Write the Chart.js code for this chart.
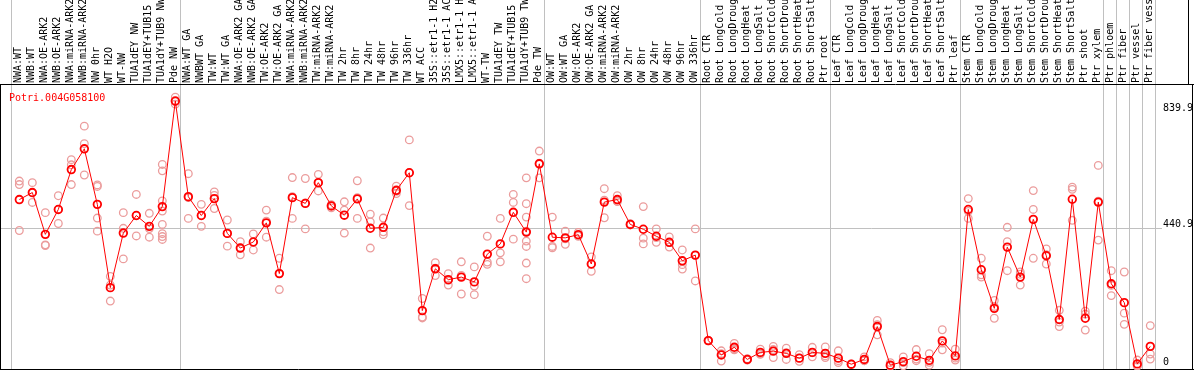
<!DOCTYPE html>
<html>
<head>
<meta charset="utf-8">
<script src="https://cdn.jsdelivr.net/npm/chart.js@4"></script>
<style>
  html, body { margin: 0; padding: 0; background: #fff; }
  #wrap { width: 1194px; height: 370px; }
</style>
</head>
<body>
<div id="wrap"><canvas id="exprChart" width="1194" height="370"></canvas></div>
<script>
const geneName = 'Potri.004G058100';

const samples = [
    'NWA:WT', 'NWB:WT', 'NWA:OE-ARK2', 'NWB:OE-ARK2', 'NWA:miRNA-ARK2', 'NWB:miRNA-ARK2', 'NW 0hr', 'WT H2O', 'WT-NW',
    'TUA1dEY NW', 'TUA1dEY+TUB15', 'TUA1dY+TUB9 NW', 'Pde NW',
    'NWA:WT GA', 'NWBWT GA', 'TW:WT', 'TW:WT GA', 'NWA:OE-ARK2 GA', 'NWB:OE-ARK2 GA', 'TW:OE-ARK2', 'TW:OE-ARK2 GA',
    'NWA:miRNA-ARK2', 'NWB:miRNA-ARK2', 'TW:miRNA-ARK2', 'TW:miRNA-ARK2', 'TW 2hr', 'TW 8hr', 'TW 24hr', 'TW 48hr',
    'TW 96hr', 'TW 336hr', 'WT ACC', '35S::etr1-1 H2O', '35S::etr1-1 ACC', 'LMX5::etr1-1 H2O', 'LMX5::etr1-1 ACC',
    'WT-TW', 'TUA1dEY TW', 'TUA1dEY+TUB15', 'TUA1dY+TUB9 TW', 'Pde TW',
    'OW:WT', 'OW:WT GA', 'OW:OE-ARK2', 'OW:OE-ARK2 GA', 'OW:miRNA-ARK2', 'OW:miRNA-ARK2', 'OW 2hr', 'OW 8hr',
    'OW 24hr', 'OW 48hr', 'OW 96hr', 'OW 336hr',
    'Root CTR', 'Root LongCold', 'Root LongDrought', 'Root LongHeat', 'Root LongSalt', 'Root ShortCold',
    'Root ShortDrought', 'Root ShortHeat', 'Root ShortSalt', 'Ptr root',
    'Leaf CTR', 'Leaf LongCold', 'Leaf LongDrought', 'Leaf LongHeat', 'Leaf LongSalt', 'Leaf ShortCold',
    'Leaf ShortDrought', 'Leaf ShortHeat', 'Leaf ShortSalt', 'Ptr leaf',
    'Stem CTR', 'Stem LongCold', 'Stem LongDrought', 'Stem LongHeat', 'Stem LongSalt', 'Stem ShortCold',
    'Stem ShortDrought', 'Stem ShortHeat', 'Stem ShortSalt', 'Ptr shoot', 'Ptr xylem',
    'Ptr phloem', 'Ptr fiber', 'Ptr vessel', 'Ptr fiber vessel'
];

// first sample index of each group (last entry closes the final group)
const groupStarts = [0, 13, 41, 53, 63, 73, 84, 85, 86, 87, 88];

const means = [
    531, 553, 422, 500, 625, 690, 516, 255, 426, 481, 447, 509, 839.9,
    540, 481, 534, 425, 379, 398, 458, 299, 537, 519, 584, 511, 482, 533, 441, 444, 560, 615,
    183, 314, 280, 288, 273, 360, 392, 491, 429, 643,
    413, 411, 421, 329, 523, 531, 453, 438, 416, 397, 339, 357,
    89, 44, 68, 30, 52, 56, 49, 34, 52, 49,
    34, 15, 30, 133, 12, 23, 40, 27, 88, 41,
    500, 311, 190, 382, 288, 469, 355, 155, 532, 159, 523,
    267, 208, 16, 71
];

const replicates = [
    [589, 578, 434], [584, 552, 522], [490, 387, 389], [543, 500, 456], [656, 640, 578],
    [761, 706, 608], [577, 572, 473, 432], [290, 263, 213], [490, 441, 345], [547, 481, 417],
    [488, 440, 413], [641, 621, 527, 495, 453, 424, 415, 406], [852, 838, 830],
    [612, 537, 472], [516, 481, 447], [555, 544, 503], [467, 425, 385], [399, 379, 358],
    [423, 398, 373], [498, 463, 413], [347, 300, 249], [600, 540, 472], [597, 520, 439],
    [610, 584, 558], [515, 512, 505], [524, 498, 426], [590, 537, 472], [485, 461, 379],
    [473, 430, 421], [573, 557, 550], [718, 615, 512], [221, 163, 160], [333, 316, 293],
    [299, 278, 263], [336, 293, 235], [320, 260, 233], [416, 335, 328], [472, 364, 336],
    [547, 522, 407], [599, 518, 476, 432, 401, 384, 332, 283], [683, 645, 599],
    [476, 384, 380], [432, 408, 391], [428, 418, 416], [351, 329, 306], [565, 529, 474],
    [543, 525, 525], [455, 452, 452], [509, 410, 392], [439, 412, 397], [414, 396, 382],
    [373, 327, 313], [439, 356, 276],
    [90, 88, 89], [57, 48, 25], [80, 63, 60], [32, 30, 28], [62, 48, 46],
    [71, 61, 36], [65, 51, 30], [45, 34, 24], [68, 51, 38], [69, 41, 36],
    [57, 26, 20], [15, 15, 14], [38, 26, 26], [152, 139, 107], [20, 9, 9],
    [38, 20, 10], [61, 31, 26], [48, 21, 12], [123, 81, 60], [62, 34, 28],
    [534, 494, 472], [347, 295, 288], [215, 196, 159], [444, 399, 308], [304, 297, 263],
    [559, 500, 347], [376, 358, 329], [184, 147, 133], [570, 563, 466], [181, 172, 122],
    [638, 526, 404],
    [308, 262, 230], [304, 175, 140], [28, 10, 9], [136, 47, 31]
];

const yTicks = [0, 440.9, 839.9];

const FONT = '10px "DejaVu Sans Mono", monospace';
const RED = '#ff0000';
const PINK = '#eb9c9c';

const meanPoints = means.map((v, i) => ({ x: i, y: v }));
const repPoints = [];
replicates.forEach((list, i) => list.forEach(v => repPoints.push({ x: i, y: v })));

// grid, frame, sample labels, gene name and value labels
const decorPlugin = {
    id: 'decor',
    beforeDatasetsDraw(chart) {
        const ctx = chart.ctx;
        const xs = chart.scales.x;
        const ys = chart.scales.y;
        const area = chart.chartArea;
        ctx.save();
        ctx.lineWidth = 1;
        ctx.strokeStyle = '#c0c0c0';
        groupStarts.forEach(s => {
            const px = Math.round(xs.getPixelForValue(s - 0.64)) + 0.5;
            ctx.beginPath();
            ctx.moveTo(px, 0);
            ctx.lineTo(px, area.bottom);
            ctx.stroke();
        });
        const gy = Math.round(ys.getPixelForValue(440.9)) + 0.5;
        ctx.beginPath();
        ctx.moveTo(area.left, gy);
        ctx.lineTo(1162, gy);
        ctx.stroke();

        // frame
        ctx.strokeStyle = '#000';
        ctx.beginPath();
        ctx.moveTo(0, area.top - 0.5);
        ctx.lineTo(1194, area.top - 0.5);
        ctx.moveTo(0.5, area.top);
        ctx.lineTo(0.5, 370);
        ctx.moveTo(0, 369.5);
        ctx.lineTo(1194, 369.5);
        ctx.moveTo(1192.5, area.top);
        ctx.lineTo(1192.5, 370);
        ctx.moveTo(1188.5, 0);
        ctx.lineTo(1188.5, area.top);
        ctx.stroke();

        // rotated sample names
        ctx.font = FONT;
        ctx.fillStyle = '#000';
        ctx.textAlign = 'left';
        ctx.textBaseline = 'middle';
        samples.forEach((name, i) => {
            ctx.save();
            ctx.translate(xs.getPixelForValue(i) - 1, area.top - 2);
            ctx.rotate(-Math.PI / 2);
            ctx.fillText(name, 0, 0);
            ctx.restore();
        });

        // gene name
        ctx.fillStyle = RED;
        ctx.textBaseline = 'alphabetic';
        ctx.fillText(geneName, 9, 101);

        // value labels on the right
        ctx.fillStyle = '#000';
        const offsets = { 0: -4, 440.9: -1, 839.9: 10 };
        yTicks.forEach(t => {
            const py = Math.min(ys.getPixelForValue(t) + offsets[t], 366);
            ctx.fillText(String(t), 1163, py);
        });
        ctx.restore();
    }
};

const ctx = document.getElementById('exprChart').getContext('2d');
new Chart(ctx, {
    type: 'scatter',
    data: {
        datasets: [{
            label: 'mean',
            type: 'line',
            data: meanPoints,
            borderColor: RED,
            borderWidth: 1,
            tension: 0,
            fill: false,
            pointStyle: 'circle',
            pointRadius: 3.8,
            pointBorderWidth: 1.8,
            pointBorderColor: RED,
            pointBackgroundColor: 'rgba(0,0,0,0)',
            clip: false
        }, {
            label: 'replicates',
            data: repPoints,
            pointStyle: 'circle',
            pointRadius: 3.8,
            pointBorderWidth: 1.3,
            pointBorderColor: PINK,
            pointBackgroundColor: 'rgba(0,0,0,0)',
            clip: false
        }]
    },
    options: {
        responsive: false,
        animation: false,
        devicePixelRatio: 1,
        layout: { autoPadding: false, padding: { left: 1, top: 85, right: 38, bottom: 1 } },
        scales: {
            x: { type: 'linear', min: -1.41, max: 87.44, display: false },
            y: { type: 'linear', min: 0, max: 890, display: false }
        },
        plugins: {
            legend: { display: false },
            tooltip: { enabled: false }
        }
    },
    plugins: [decorPlugin]
});
</script>
</body>
</html>
